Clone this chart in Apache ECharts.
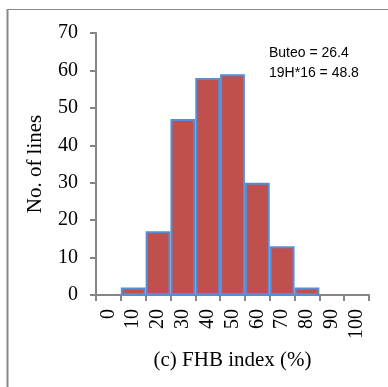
<!DOCTYPE html>
<html>
<head>
<meta charset="utf-8">
<script src="https://cdn.jsdelivr.net/npm/echarts@6/dist/echarts.min.js"></script>
<style>
  html, body { margin: 0; padding: 0; background: #fff; }
  #chart { width: 388px; height: 387px; }
</style>
</head>
<body>
<div id="chart"></div>
<script>
// FHB index histogram: number of lines per 10 % bin
const binLabels = ['0', '10', '20', '30', '40', '50', '60', '70', '80', '90', '100'];
const lineCounts = [0, 2, 17, 47, 58, 59, 30, 13, 2, 0, 0];
const yTicks = { min: 0, max: 70, step: 10 };
const notes = ['Buteo = 26.4', '19H*16 = 48.8'];

const serif = '"Liberation Serif", "Times New Roman", serif';
const axisGrey = '#868686';

const chart = echarts.init(document.getElementById('chart'), null, { renderer: 'canvas' });

chart.setOption({
  backgroundColor: '#ffffff',
  animation: false,
  grid: { left: 96, right: 19, top: 33, bottom: 92 },
  xAxis: {
    type: 'category',
    data: binLabels,
    boundaryGap: true,
    name: '(c) FHB index (%)',
    nameLocation: 'middle',
    nameGap: 55,
    nameTextStyle: { fontFamily: serif, fontSize: 21, color: '#000' },
    axisLine: { show: true, lineStyle: { color: axisGrey, width: 2 } },
    axisTick: { show: true, alignWithLabel: false, length: 6, lineStyle: { color: axisGrey, width: 2 } },
    axisLabel: {
      interval: 0, rotate: 90, margin: 14,
      fontFamily: serif, fontSize: 20, color: '#000'
    },
    splitLine: { show: false }
  },
  yAxis: {
    type: 'value',
    min: yTicks.min, max: yTicks.max, interval: yTicks.step,
    name: 'No. of lines',
    nameLocation: 'middle',
    nameGap: 50,
    nameTextStyle: { fontFamily: serif, fontSize: 21, color: '#000' },
    axisLine: { show: true, lineStyle: { color: axisGrey, width: 2 } },
    axisTick: { show: true, length: 6, lineStyle: { color: axisGrey, width: 2 } },
    axisLabel: { margin: 18, fontFamily: serif, fontSize: 20, color: '#000' },
    splitLine: { show: false }
  },
  series: [{
    type: 'bar',
    barCategoryGap: '0%',
    data: lineCounts.map(v => ({
      value: v,
      itemStyle: v === 0 ? { borderWidth: 0 } : {}
    })),
    itemStyle: { color: '#c0504d', borderColor: '#558ed5', borderWidth: 2 }
  }],
  graphic: [
    // page frame (top and left edges)
    { type: 'line', shape: { x1: 7, y1: 9.5, x2: 388, y2: 9.5 }, style: { stroke: '#888', lineWidth: 1 } },
    { type: 'line', shape: { x1: 7.5, y1: 9, x2: 7.5, y2: 387 }, style: { stroke: '#888', lineWidth: 2 } },
    {
      type: 'text', left: 269, top: 46,
      style: { text: notes[0], font: '14px "Liberation Sans", Arial, sans-serif', fill: '#000' }
    },
    {
      type: 'text', left: 269, top: 66,
      style: { text: notes[1], font: '14px "Liberation Sans", Arial, sans-serif', fill: '#000' }
    }
  ]
});
</script>
</body>
</html>
